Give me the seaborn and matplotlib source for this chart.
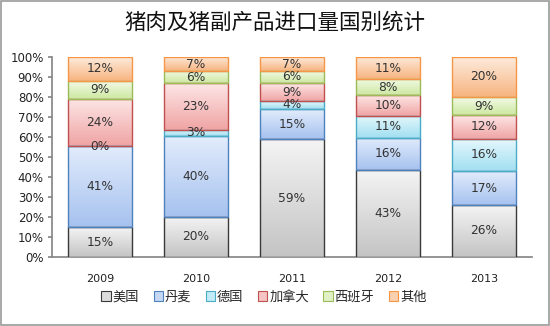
import numpy as np
import pandas as pd
import seaborn as sns
import matplotlib.pyplot as plt
from matplotlib.colors import LinearSegmentedColormap
from matplotlib.patches import Patch, Rectangle

years = ["2009", "2010", "2011", "2012", "2013"]
countries = ["美国", "丹麦", "德国", "加拿大", "西班牙", "其他"]
usa = [15, 20, 59, 43, 26]
denmark = [41, 40, 15, 16, 17]
germany = [0, 3, 4, 11, 16]
canada = [24, 23, 9, 10, 12]
spain = [9, 6, 6, 8, 9]
other = [12, 7, 7, 11, 20]
series = [usa, denmark, germany, canada, spain, other]

tops = ["#f4f4f4", "#e2ecfc", "#e4f7fc", "#fde6e6", "#f3fae6", "#fdebdc"]
bottoms = ["#c4c4c4", "#a6c2ef", "#a2dff1", "#f0a4a4", "#cde8a2", "#f7b480"]
edges = ["#3a3a3a", "#4f81bd", "#4bacc6", "#c0504d", "#9bbb59", "#f79646"]
mids = ["#dcdcdc", "#c4d7f5", "#c3ebf7", "#f7c4c4", "#e0f1c4", "#fad0ae"]

sns.set_theme(style="white")
plt.rcParams['font.family'] = ['Noto Sans CJK SC', 'DejaVu Sans']

vals = np.array(series, dtype=float)
pct = vals / vals.sum(axis=0) * 100
cum = np.vstack([np.zeros(len(years)), np.cumsum(pct, axis=0)[:-1]])

fig = plt.figure(figsize=(5.5, 3.26), dpi=100)
ax = fig.add_axes([52/550, 69/326, 480/550, 200/326])

for i, c in enumerate(countries):
    df = pd.DataFrame({"year": years, "v": pct[i], "b": cum[i]})
    n0 = len(ax.patches)
    sns.barplot(data=df, x="year", y="v", bottom=df["b"], ax=ax, color=mids[i],
                width=0.66, edgecolor=edges[i], linewidth=1.0, saturation=1, zorder=3)
    cmap = LinearSegmentedColormap.from_list(c, [bottoms[i], tops[i]])
    for j, p in enumerate(ax.patches[n0:]):
        x0, y0 = p.get_x(), p.get_y()
        w, h = p.get_width(), p.get_height()
        if h > 0:
            grad = np.linspace(0, 1, 64).reshape(-1, 1)
            im = ax.imshow(grad, extent=[x0, x0 + w, y0, y0 + h], origin="lower",
                           aspect="auto", cmap=cmap, zorder=3.5)
            im.set_clip_path(p)
        p.set_facecolor("none")
        p.set_zorder(4)
        ax.text(x0 + w / 2, y0 + h / 2, f"{int(series[i][j])}%", ha="center",
                va="center", fontsize=8.8, color="#333333", zorder=5,
                family=['DejaVu Sans'])

ax.set_xlim(-0.5, 4.5)
ax.set_ylim(0, 100)
ax.set_yticks(np.arange(0, 101, 10))
ax.set_yticklabels([f"{t}%" for t in range(0, 101, 10)], fontsize=8.5,
                   family=['DejaVu Sans'], color="#222222")
ax.set_xticks(range(5))
ax.set_xticklabels(years, fontsize=8, family=['DejaVu Sans'], color="#222222")
ax.set_xlabel("")
ax.set_ylabel("")
for s in ["top", "right"]:
    ax.spines[s].set_visible(False)
ax.spines["left"].set_color("#888888")
ax.spines["bottom"].set_color("#888888")
ax.tick_params(axis="y", left=True, length=3, color="#888888", pad=3)
ax.tick_params(axis="x", bottom=False, pad=6)

fig.text(0.5, 0.93, "猪肉及猪副产品进口量国别统计", ha="center", va="center",
         fontsize=15.5, fontweight="normal", color="#111111")

handles = [Patch(facecolor=mids[i], edgecolor=edges[i], linewidth=0.8)
           for i in range(6)]
fig.legend(handles, countries, loc="center", bbox_to_anchor=(264/550, 1 - 297/326),
           ncol=6, frameon=False, fontsize=9.5, handlelength=0.7, handleheight=0.7,
           handletextpad=0.15, columnspacing=1.1)

fig.add_artist(Rectangle((0.002, 0.003), 0.996, 0.994, transform=fig.transFigure,
                         fill=False, edgecolor="#999999", linewidth=1.2))

fig.savefig("out.png", dpi=100)
